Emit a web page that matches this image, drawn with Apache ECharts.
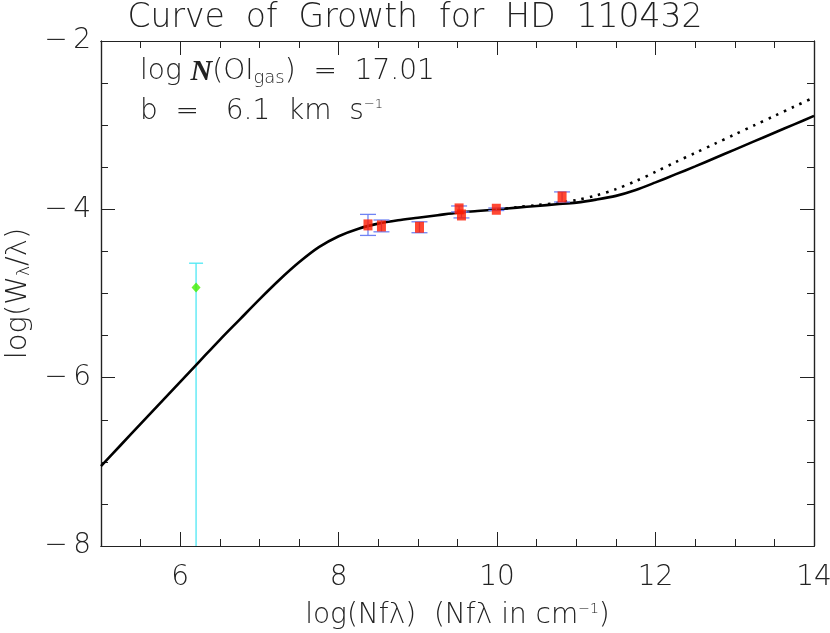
<!DOCTYPE html>
<html>
<head>
<meta charset="utf-8">
<script src="https://cdn.jsdelivr.net/npm/echarts@6/dist/echarts.min.js"></script>
<style>
  html, body { margin: 0; padding: 0; background: #fff; }
  #chart { width: 830px; height: 633px; }
</style>
</head>
<body>
<div id="chart"></div>
<script>
// model curve of growth (solid), read every 0.25 in log(Nf lambda)
const curveX = [5, 5.25, 5.5, 5.75, 6, 6.25, 6.5, 6.75, 7, 7.25, 7.5, 7.75, 8, 8.25, 8.5, 8.75, 9, 9.25, 9.5, 9.75,
  10, 10.25, 10.5, 10.75, 11, 11.25, 11.5, 11.75, 12, 12.25, 12.5, 12.75, 13, 13.25, 13.5, 13.75, 14];
const curveY = [-7.05, -6.80, -6.55, -6.30, -6.05, -5.80, -5.55, -5.31, -5.07, -4.84, -4.63, -4.45, -4.32, -4.23, -4.17, -4.13, -4.10, -4.07, -4.04, -4.02,
  -4.0, -3.98, -3.96, -3.94, -3.92, -3.885, -3.84, -3.77, -3.68, -3.585, -3.49, -3.39, -3.29, -3.19, -3.09, -2.99, -2.89];
// alternative curve (dotted)
const dottedX = [10, 10.25, 10.5, 10.75, 11, 11.25, 11.5, 11.75, 12, 12.25, 12.5, 12.75, 13, 13.25, 13.5, 13.75, 14];
const dottedY = [-4.0, -3.975, -3.95, -3.925, -3.89, -3.835, -3.76, -3.665, -3.555, -3.44, -3.33, -3.22, -3.11, -3.0, -2.89, -2.78, -2.67];

// measured lines
const lineX = [8.37, 8.54, 9.02, 9.52, 9.55, 9.99, 10.82];
const lineY = [-4.185, -4.197, -4.213, -3.995, -4.067, -3.999, -3.853];
const lineErr = [0.125, 0.07, 0.065, 0.035, 0.035, 0.015, 0.06];

// weak line
const weakX = [6.2];
const weakY = [-4.93];
const weakTop = [-4.64];
const weakBottom = [-9];

const xMajor = [6, 8, 10, 12, 14];
const font = 'DejaVu Sans';

const chart = echarts.init(document.getElementById('chart'));

function pairs(xs, ys) { return xs.map((x, i) => [x, ys[i]]); }

function errBar(color, cap) {
  return function (params, api) {
    const x = api.value(0);
    const lo = api.coord([x, api.value(1)]);
    const hi = api.coord([x, api.value(2)]);
    const st = { stroke: color, lineWidth: 1.3 };
    return {
      type: 'group',
      children: [
        { type: 'line', shape: { x1: lo[0], y1: lo[1], x2: hi[0], y2: hi[1] }, style: st },
        { type: 'line', shape: { x1: lo[0] - cap, y1: lo[1], x2: lo[0] + cap, y2: lo[1] }, style: st },
        { type: 'line', shape: { x1: hi[0] - cap, y1: hi[1], x2: hi[0] + cap, y2: hi[1] }, style: st }
      ]
    };
  };
}

const axisLine = { show: true, lineStyle: { color: '#222', width: 1.2 } };
const lbl = { fontFamily: font, fontWeight: 200, fontSize: 28, color: '#222' };

function xAxisDef(pos, major, labels) {
  return {
    type: 'value', position: pos, min: 5, max: 14,
    axisLine: axisLine,
    splitLine: { show: false },
    axisTick: major
      ? { inside: true, length: 14, customValues: xMajor, lineStyle: { color: '#222' } }
      : { inside: true, length: 7, interval: 0.5, lineStyle: { color: '#222' } },
    interval: 0.5,
    axisLabel: labels
      ? Object.assign({ customValues: xMajor, margin: 18 }, lbl)
      : { show: false }
  };
}

function yAxisDef(pos, major, labels) {
  return {
    type: 'value', position: pos, min: -8, max: -2, interval: 0.5,
    axisLine: axisLine,
    splitLine: { show: false },
    axisTick: { inside: true, length: major ? 14 : 7, lineStyle: { color: '#222' } },
    axisLabel: labels
      ? Object.assign({ margin: 10, formatter: v => (v % 2 === 0 ? '\u2212\u2009' + Math.abs(v) : '') }, lbl)
      : { show: false }
  };
}

const xAxes = [
  xAxisDef('bottom', true, true),
  xAxisDef('bottom', false, false),
  xAxisDef('top', true, false),
  xAxisDef('top', false, false)
];
xAxes[0].name = '{t|log(Nf\u03bb)  (Nf\u03bb in cm}{s|\u22121}{t|)}';
xAxes[0].nameLocation = 'middle';
xAxes[0].nameGap = 56;
xAxes[0].nameTextStyle = {
  rich: {
    t: { fontFamily: font, fontWeight: 200, fontSize: 28, color: '#222' },
    s: { fontFamily: font, fontWeight: 200, fontSize: 14, color: '#222', verticalAlign: 'top', padding: [0, 0, 14, 0] }
  }
};

const yAxes = [
  yAxisDef('left', true, true),
  yAxisDef('left', false, false),
  yAxisDef('right', true, false),
  yAxisDef('right', false, false)
];
yAxes[0].axisTick.customValues = [-8, -6, -4, -2];
yAxes[2].axisTick.customValues = [-8, -6, -4, -2];
yAxes[0].name = '{t|log(W}{s|\u03bb}{t|/\u03bb)}';
yAxes[0].nameLocation = 'middle';
yAxes[0].nameGap = 66;
yAxes[0].nameRotate = 90;
yAxes[0].nameTextStyle = {
  rich: {
    t: { fontFamily: font, fontWeight: 200, fontSize: 29, color: '#222' },
    s: { fontFamily: font, fontWeight: 200, fontSize: 17, color: '#222', verticalAlign: 'bottom', padding: [12, 0, 0, 0] }
  }
};

const option = {
  animation: false,
  backgroundColor: '#fff',
  title: {
    text: 'Curve  of  Growth  for  HD  110432',
    left: 'center', top: -3,
    textStyle: { fontFamily: font, fontWeight: 200, fontSize: 33, color: '#222' }
  },
  grid: { left: 101, right: 16, top: 41, bottom: 87, outerBoundsMode: 'none' },
  xAxis: xAxes,
  yAxis: yAxes,
  graphic: [
    {
      type: 'text', left: 140, top: 57,
      style: {
        text: '{t|log }{n|N}{t|(OI}{s|gas}{t|)  =  17.01}',
        rich: {
          t: { fontFamily: font, fontWeight: 200, fontSize: 28, fill: '#222' },
          n: { fontFamily: 'Liberation Serif', fontWeight: 'bold', fontStyle: 'italic', fontSize: 30, fill: '#222' },
          s: { fontFamily: font, fontWeight: 200, fontSize: 18, fill: '#222', verticalAlign: 'bottom', padding: [13, 0, 0, 0] }
        }
      }
    },
    {
      type: 'text', left: 140, top: 98,
      style: {
        text: '{t|b  =   6.1  km  s}{s|\u22121}',
        rich: {
          t: { fontFamily: font, fontWeight: 200, fontSize: 28, fill: '#222' },
          s: { fontFamily: font, fontWeight: 200, fontSize: 13, fill: '#222', verticalAlign: 'top', padding: [0, 0, 14, 0] }
        }
      }
    }
  ],
  series: [
    {
      type: 'custom', xAxisIndex: 0, yAxisIndex: 0, clip: true,
      renderItem: errBar('#4de8f4', 7),
      data: weakX.map((x, i) => [x, weakBottom[i], weakTop[i]]),
      z: 2
    },
    {
      type: 'line', data: pairs(curveX, curveY), smooth: 0.3, showSymbol: false,
      lineStyle: { color: '#000', width: 2.6 }, z: 3
    },
    {
      type: 'line', data: pairs(dottedX, dottedY), smooth: 0.3, showSymbol: false,
      lineStyle: { color: '#000', width: 2.6, type: [2.5, 6] }, z: 3
    },
    {
      type: 'custom', xAxisIndex: 0, yAxisIndex: 0,
      renderItem: errBar('#6f83f4', 8),
      data: lineX.map((x, i) => [x, lineY[i] - lineErr[i], lineY[i] + lineErr[i]]),
      z: 4
    },
    {
      type: 'scatter', data: pairs(lineX, lineY), symbol: 'rect', symbolSize: [9, 11],
      itemStyle: { color: '#ff1a00' }, z: 5
    },
    {
      type: 'scatter', data: pairs(weakX, weakY), symbol: 'diamond', symbolSize: [9, 10],
      itemStyle: { color: '#44ee00' }, z: 5
    }
  ]
};

chart.setOption(option);
</script>
</body>
</html>
